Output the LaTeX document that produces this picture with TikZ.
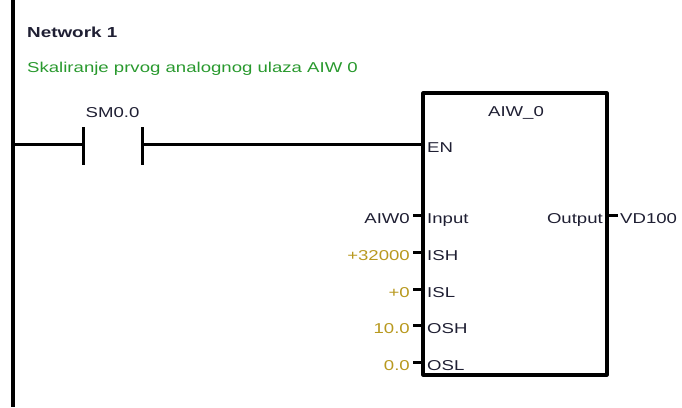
\documentclass[tikz,border=0pt]{standalone}
\usepackage{fontspec}
\setmainfont[FakeStretch=1.3]{Liberation Sans}
\usetikzlibrary{positioning}
\definecolor{cmtgreen}{rgb}{0.16,0.6,0.18}
\definecolor{valolive}{rgb}{0.72,0.6,0.12}
\definecolor{txtdark}{rgb}{0.12,0.12,0.2}

\begin{document}
\begin{tikzpicture}[x=1pt,y=-1pt,line join=round,
  wire/.style={line width=3pt},
  lbl/.style={font=\fontsize{14.3}{16}\selectfont,inner sep=0pt,text=txtdark},
  pin/.style={lbl,anchor=base west},
  val/.style={lbl,anchor=base east}]
\useasboundingbox (0,0) rectangle (682,407);
% left power rail
\coordinate (railtop) at (13,0);
\coordinate (railbot) at (13,407);
\draw[line width=3.6pt] (railtop) -- (railbot);
% header
\node[lbl,anchor=base west,font=\bfseries\fontsize{14.5}{16}\selectfont] (net) at (27,37) {Network 1};
\node[lbl,anchor=base west,text=cmtgreen] (cmt) at (27,72) {Skaliranje prvog analognog ulaza AIW 0};
% contact SM0.0
\coordinate (rail) at (13,144.5);
\coordinate (cl) at (83,144.5);
\coordinate (cr) at (142,144.5);
\draw[wire] (83,127) -- (83,165);
\draw[wire] (142,127) -- (142,165);
\node[lbl,anchor=base] (sm) at (112.5,117) {SM0.0};
\draw[wire] (rail) -- (cl);
% scaling block
\node[draw,line width=3.2pt,minimum width=184pt,minimum height=282pt,inner sep=0pt] (blk) at (515,234) {};
\node[lbl,anchor=base] (title) at (516,116) {AIW\_0};
\coordinate (en) at (423,144.5);
\draw[wire] (cr) -- (en);
\node[pin] (enl) at (427,152.5) {EN};
\foreach \pn/\yy/\vv/\cc [count=\i] in {Input/215.5/AIW0/txtdark,ISH/252.3/+32000/valolive,ISL/289.1/+0/valolive,OSH/325.9/10.0/valolive,OSL/362.7/0.0/valolive} {
  \coordinate (in\i) at (423,\yy);
  \coordinate (st\i) at (413,\yy);
  \draw[wire] (in\i) -- (st\i);
  \node[pin] (p\i) at (427,\yy+8) {\pn};
  \node[val,text=\cc] (v\i) at (410,\yy+8) {\vv};
}
% output
\coordinate (out) at (607,215.5);
\coordinate (outst) at (618,215.5);
\draw[wire] (out) -- (outst);
\node[val] (outl) at (603,223.5) {Output};
\node[pin] (vd) at (620,223.5) {VD100};
\end{tikzpicture}
\end{document}
